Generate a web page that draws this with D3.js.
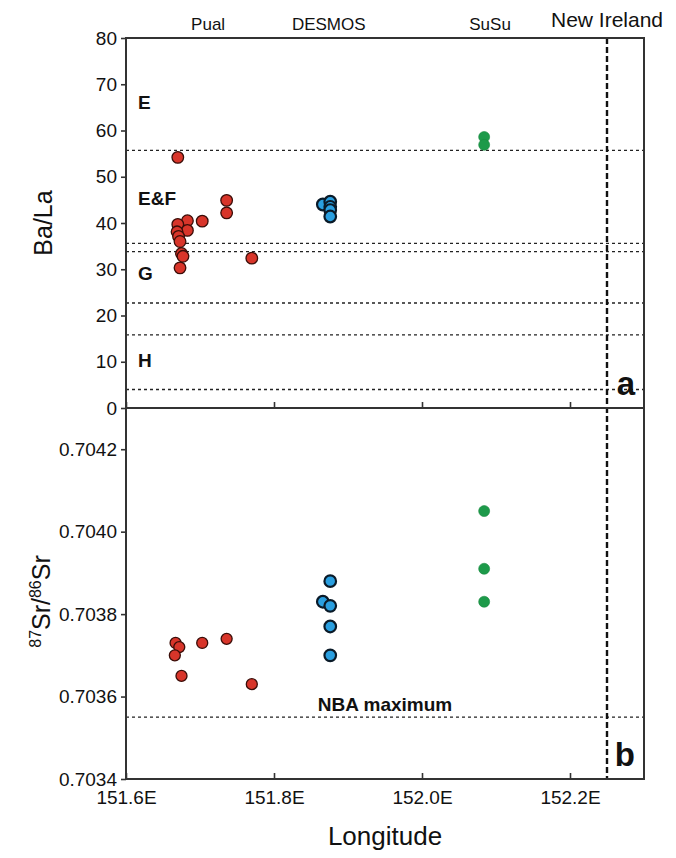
<!DOCTYPE html>
<html>
<head>
<meta charset="utf-8">
<script src="https://cdn.jsdelivr.net/npm/d3@7"></script>
<style>
    body { margin: 0; background: #fff; }
    text { font-family: "Liberation Sans", Arial, sans-serif; fill: #111; }
</style>
</head>
<body>
<svg id="chart"></svg>
<script>
// ---- data ----
const lonTicks = [151.6, 151.8, 152.0, 152.2];
const baLaTicks = [0, 10, 20, 30, 40, 50, 60, 70, 80];
const srTicks = [0.7034, 0.7036, 0.7038, 0.7040, 0.7042];

// dotted reference lines in panel a (Ba/La)
const zoneLines = [55.7, 35.6, 33.8, 22.7, 15.8, 4.0];
const zoneLabels = [
    { text: 'E', value: 66 },
    { text: 'E&F', value: 45.4 },
    { text: 'G', value: 29.2 },
    { text: 'H', value: 10.4 }
];

const sites = [
    { name: 'Pual', lon: 151.711 },
    { name: 'DESMOS', lon: 151.874 },
    { name: 'SuSu', lon: 152.092 }
];
const newIrelandLon = 152.25;
const nbaMaximum = 0.70355;

// panel a: [longitude, Ba/La]
const pualBaLa = [
    [151.670, 54.2], [151.736, 44.9], [151.736, 42.2], [151.683, 40.5],
    [151.703, 40.4], [151.670, 39.7], [151.683, 38.4], [151.669, 38.1],
    [151.671, 37.1], [151.673, 36.0], [151.675, 33.4], [151.677, 32.8],
    [151.770, 32.4], [151.673, 30.3]
];
const desmosBaLa = [
    [151.866, 44.0], [151.876, 44.6], [151.876, 43.5], [151.876, 42.8], [151.876, 41.4]
];
const susuBaLa = [[152.084, 58.6], [152.084, 56.9]];

// panel b: [longitude, 87Sr/86Sr]
const pualSr = [
    [151.667, 0.70373], [151.672, 0.70372], [151.666, 0.70370], [151.703, 0.70373],
    [151.736, 0.70374], [151.675, 0.70365], [151.770, 0.70363]
];
const desmosSr = [
    [151.876, 0.70388], [151.866, 0.70383], [151.876, 0.70382], [151.876, 0.70377], [151.876, 0.70370]
];
const susuSr = [[152.084, 0.70405], [152.084, 0.70391], [152.084, 0.70383]];

// ---- drawing ----
const W = 676, H = 858;
const left = 126, right = 644;
const topA = 38, botA = 408, botB = 779;

const svg = d3.select('#chart').attr('width', W).attr('height', H);
svg.append('rect').attr('width', W).attr('height', H).attr('fill', '#fff');

const x = d3.scaleLinear().domain([151.6, 152.3]).range([left, right]);
const yA = d3.scaleLinear().domain([0, 80]).range([botA, topA]);
const yB = d3.scaleLinear().domain([0.7034, 0.7043]).range([botB, botA]);

const dotted = g => g.attr('stroke', '#222').attr('stroke-width', 1.3).attr('stroke-dasharray', '3,3');

// zone lines, panel a
svg.append('g').selectAll('line').data(zoneLines).enter().append('line')
    .attr('x1', left).attr('x2', right)
    .attr('y1', d => yA(d)).attr('y2', d => yA(d))
    .call(dotted);

// NBA maximum line, panel b
svg.append('line')
    .attr('x1', left).attr('x2', right)
    .attr('y1', yB(nbaMaximum)).attr('y2', yB(nbaMaximum))
    .call(dotted);

// New Ireland coast
svg.append('line')
    .attr('x1', x(newIrelandLon)).attr('x2', x(newIrelandLon))
    .attr('y1', topA).attr('y2', botB)
    .attr('stroke', '#111').attr('stroke-width', 2.4).attr('stroke-dasharray', '6,3');

// axes
const axA = svg.append('g').attr('transform', `translate(${left},0)`)
    .call(d3.axisLeft(yA).tickValues(baLaTicks).tickSize(5).tickPadding(4));
const axB = svg.append('g').attr('transform', `translate(${left},0)`)
    .call(d3.axisLeft(yB).tickValues(srTicks).tickFormat(d3.format('.4f')).tickSize(5).tickPadding(4));
const axX = svg.append('g').attr('transform', `translate(0,${botB})`)
    .call(d3.axisBottom(x).tickValues(lonTicks).tickFormat(d => d3.format('.1f')(d) + 'E').tickSize(-6).tickPadding(12));
const axXa = svg.append('g').attr('transform', `translate(0,${botA})`)
    .call(d3.axisBottom(x).tickValues(lonTicks).tickFormat('').tickSize(-6));

[axA, axB, axX, axXa].forEach(a => {
    a.select('.domain').remove();
    a.selectAll('.tick line').attr('stroke', '#333').attr('stroke-width', 1.6);
    a.selectAll('.tick text').attr('font-size', 19).attr('fill', '#111')
        .style('font-family', '"Liberation Sans", Arial, sans-serif');
});

// points
const drawPoints = (data, yScale, fill, stroke, sw, r) => {
    svg.append('g').selectAll('circle').data(data).enter().append('circle')
        .attr('cx', d => x(d[0])).attr('cy', d => yScale(d[1])).attr('r', r)
        .attr('fill', fill).attr('stroke', stroke).attr('stroke-width', sw);
};
drawPoints(pualBaLa, yA, '#d8352a', '#3a0d08', 1.3, 5.8);
drawPoints(desmosBaLa, yA, '#2a9fe0', '#0a1a28', 2.2, 5.8);
drawPoints(susuBaLa, yA, '#1d9a4a', '#1a8a40', 0.6, 5.5);
drawPoints(pualSr, yB, '#d8352a', '#3a0d08', 1.3, 5.5);
drawPoints(desmosSr, yB, '#2a9fe0', '#0a1a28', 2.2, 5.8);
drawPoints(susuSr, yB, '#1d9a4a', '#1a8a40', 0.6, 5.5);

// panel frames
[[topA, botA], [botA, botB]].forEach(([t, b]) => {
    svg.append('rect').attr('x', left).attr('y', t)
        .attr('width', right - left).attr('height', b - t)
        .attr('fill', 'none').attr('stroke', '#333').attr('stroke-width', 2);
});

// zone labels
svg.append('g').selectAll('text').data(zoneLabels).enter().append('text')
    .attr('x', 138).attr('y', d => yA(d.value)).attr('dy', '0.35em')
    .attr('font-size', 19).attr('font-weight', 'bold')
    .text(d => d.text);

svg.append('text').attr('x', 385).attr('y', yB(nbaMaximum) - 6)
    .attr('text-anchor', 'middle').attr('font-size', 19).attr('font-weight', 'bold')
    .text('NBA maximum');

// site names along the top
svg.append('g').selectAll('text').data(sites).enter().append('text')
    .attr('x', d => x(d.lon)).attr('y', 30).attr('text-anchor', 'middle')
    .attr('font-size', 17).text(d => d.name);
svg.append('text').attr('x', x(newIrelandLon)).attr('y', 27).attr('text-anchor', 'middle')
    .attr('font-size', 21).text('New Ireland');

// panel letters
svg.append('text').attr('x', right - 9).attr('y', botA - 13).attr('text-anchor', 'end')
    .attr('font-size', 33).attr('font-weight', 'bold').text('a');
svg.append('text').attr('x', right - 9).attr('y', botB - 13).attr('text-anchor', 'end')
    .attr('font-size', 33).attr('font-weight', 'bold').text('b');

// axis titles
svg.append('text').attr('transform', `translate(52,${(topA + botA) / 2}) rotate(-90)`)
    .attr('text-anchor', 'middle').attr('font-size', 25).text('Ba/La');

const srTitle = svg.append('text').attr('transform', `translate(50,${(botA + botB) / 2 + 8}) rotate(-90)`)
    .attr('text-anchor', 'middle').attr('font-size', 25);
srTitle.append('tspan').attr('font-size', 16).attr('dy', -9).text('87');
srTitle.append('tspan').attr('dy', 9).text('Sr/');
srTitle.append('tspan').attr('font-size', 16).attr('dy', -9).text('86');
srTitle.append('tspan').attr('dy', 9).text('Sr');

svg.append('text').attr('x', (left + right) / 2).attr('y', 845)
    .attr('text-anchor', 'middle').attr('font-size', 26).text('Longitude');
</script>
</body>
</html>
